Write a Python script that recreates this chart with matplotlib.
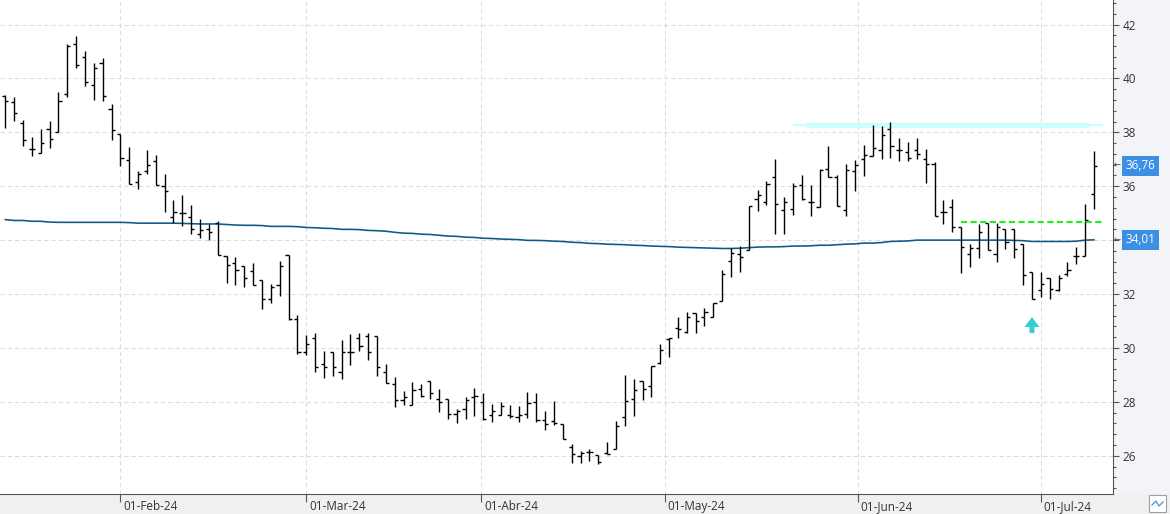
# OHLC bar chart with long moving average, support/resistance marks
import numpy as np
import pandas as pd
import matplotlib
matplotlib.use("Agg")
import matplotlib.pyplot as plt
import matplotlib.transforms as mtransforms
from matplotlib.patches import Rectangle, FancyArrow
from matplotlib.ticker import MultipleLocator

# --- data ---
first_day = "2024-01-15"
last_day = "2024-07-09"
holidays = ["2024-03-29", "2024-04-01", "2024-05-01"]

opens = [39.34, 39.13, 38.33, 37.37, 37.22, 38.11, 38.00, 39.41, 41.27, 40.80,
         39.76, 40.58, 38.85, 37.94, 36.99, 36.15, 36.58, 36.92, 36.00, 34.87,
         35.02, 34.87, 34.22, 34.40, 34.65, 33.40, 33.14, 33.03, 32.84, 32.52,
         31.80, 32.32, 33.43, 31.06, 29.84, 30.35, 29.42, 29.84, 29.10, 29.84,
         30.35, 30.44, 30.44, 29.09, 28.67, 28.07, 27.87, 28.49, 28.77, 28.12,
         28.10, 27.55, 27.73, 28.19, 27.99, 27.52, 27.51, 27.51, 27.45, 27.56,
         28.00, 27.32, 27.30, 27.17, 26.33, 26.00, 26.15, 26.04, 26.10, 26.25,
         27.45, 28.11, 28.76, 28.59, 29.45, 30.34, 30.74, 30.60, 31.29, 31.16,
         31.15, 31.75, 33.21, 33.47, 33.63, 35.53, 35.42, 36.35, 35.12, 35.15,
         36.06, 35.41, 35.22, 36.63, 36.36, 35.10, 36.57, 37.02, 37.11, 37.35,
         38.11, 37.33, 37.27, 37.33, 37.01, 36.83, 35.03, 35.24, 34.47, 33.50,
         33.70, 34.62, 33.50, 34.41, 34.41, 33.84, 32.81, 32.14, 32.58, 32.14,
         32.76, 33.40, 33.40, 35.70]
highs = [39.39, 39.30, 38.46, 37.82, 38.12, 38.42, 39.50, 41.27, 41.58, 41.02,
         40.56, 40.75, 39.04, 37.94, 37.45, 36.56, 37.34, 37.15, 36.45, 35.48,
         35.68, 35.30, 34.79, 34.60, 34.71, 33.40, 33.36, 33.03, 33.15, 32.52,
         32.39, 33.21, 33.43, 31.24, 30.47, 30.57, 29.88, 29.84, 30.29, 30.52,
         30.54, 30.55, 30.44, 29.39, 28.93, 28.40, 28.75, 28.67, 28.77, 28.49,
         28.10, 27.72, 28.19, 28.53, 28.31, 27.93, 28.00, 27.89, 27.84, 28.38,
         28.34, 27.67, 28.02, 27.17, 26.43, 26.19, 26.25, 26.04, 26.52, 27.30,
         28.98, 28.83, 28.76, 29.32, 30.13, 30.38, 31.14, 31.32, 31.29, 31.50,
         31.66, 32.88, 33.69, 33.79, 35.25, 35.87, 36.19, 37.01, 35.59, 36.12,
         36.41, 36.04, 36.63, 37.49, 36.42, 36.81, 36.96, 37.52, 38.27, 38.25,
         38.37, 37.78, 37.63, 37.78, 37.38, 36.91, 35.49, 35.51, 34.47, 33.84,
         34.58, 34.62, 34.62, 34.41, 34.41, 33.84, 32.81, 32.80, 32.58, 32.72,
         33.20, 33.75, 35.33, 37.31]
lows = [38.17, 38.43, 37.50, 37.14, 37.22, 37.43, 38.00, 39.32, 40.40, 39.73,
        39.20, 39.16, 37.73, 36.76, 36.10, 35.88, 36.47, 36.03, 35.05, 34.64,
        34.53, 34.21, 34.09, 34.02, 33.43, 32.42, 32.34, 32.27, 32.32, 31.45,
        31.66, 31.91, 31.03, 29.79, 29.73, 29.11, 28.89, 28.96, 28.85, 29.37,
        29.89, 29.56, 28.95, 28.69, 27.79, 27.87, 27.87, 28.18, 28.09, 27.61,
        27.35, 27.20, 27.35, 27.46, 27.32, 27.27, 27.51, 27.39, 27.24, 27.40,
        27.25, 26.95, 27.15, 26.62, 25.72, 25.72, 25.82, 25.69, 26.06, 26.25,
        27.09, 27.47, 28.05, 28.17, 29.41, 29.66, 30.37, 30.57, 30.57, 30.82,
        31.15, 31.75, 32.64, 32.83, 33.63, 35.07, 35.32, 34.21, 34.21, 34.95,
        35.48, 34.91, 35.22, 36.33, 35.25, 34.88, 35.84, 36.37, 37.11, 37.02,
        37.04, 36.95, 36.95, 37.01, 36.11, 34.88, 34.61, 34.31, 32.79, 33.01,
        33.34, 33.65, 33.20, 33.68, 33.34, 32.35, 31.82, 31.89, 31.82, 32.11,
        32.67, 33.12, 33.40, 35.16]
closes = [39.16, 38.70, 37.70, 37.37, 37.59, 37.77, 39.16, 41.22, 40.49, 39.86,
          40.38, 39.36, 38.08, 37.06, 36.10, 36.45, 36.77, 36.03, 35.84, 35.06,
          35.02, 34.43, 34.38, 34.30, 33.46, 33.06, 32.88, 32.59, 32.34, 31.80,
          32.26, 33.04, 31.07, 29.85, 30.14, 29.30, 29.30, 29.28, 29.84, 29.84,
          30.09, 29.84, 29.28, 28.70, 28.07, 28.18, 28.44, 28.20, 28.34, 27.98,
          27.55, 27.67, 28.08, 28.22, 27.37, 27.67, 27.84, 27.46, 27.51, 27.96,
          27.32, 27.17, 27.20, 26.62, 26.06, 26.10, 26.15, 25.75, 26.08, 27.12,
          28.02, 28.43, 28.46, 29.32, 29.93, 30.38, 30.70, 31.15, 31.01, 31.34,
          31.66, 32.73, 33.51, 33.37, 35.25, 35.68, 36.09, 35.33, 35.42, 36.00,
          35.52, 35.41, 36.60, 36.33, 35.25, 36.59, 36.78, 37.17, 37.41, 37.90,
          37.49, 37.33, 37.04, 37.21, 36.84, 34.88, 35.03, 34.50, 33.74, 33.70,
          34.29, 33.65, 34.50, 33.94, 33.68, 32.70, 31.82, 32.39, 32.20, 32.58,
          32.91, 33.40, 34.74, 36.76]
moving_avg = [34.76, 34.73, 34.73, 34.70, 34.70, 34.67, 34.66, 34.66, 34.66, 34.66,
              34.66, 34.66, 34.66, 34.66, 34.65, 34.63, 34.63, 34.63, 34.63, 34.63,
              34.62, 34.61, 34.60, 34.60, 34.60, 34.58, 34.56, 34.55, 34.55, 34.54,
              34.51, 34.51, 34.51, 34.50, 34.47, 34.46, 34.44, 34.43, 34.40, 34.40,
              34.39, 34.36, 34.35, 34.33, 34.29, 34.26, 34.25, 34.22, 34.21, 34.18,
              34.15, 34.14, 34.11, 34.10, 34.07, 34.06, 34.04, 34.03, 34.02, 33.99,
              33.99, 33.98, 33.96, 33.95, 33.92, 33.91, 33.88, 33.87, 33.85, 33.84,
              33.83, 33.81, 33.80, 33.78, 33.77, 33.76, 33.74, 33.73, 33.72, 33.71,
              33.70, 33.69, 33.69, 33.70, 33.72, 33.74, 33.75, 33.75, 33.76, 33.78,
              33.78, 33.79, 33.81, 33.81, 33.83, 33.85, 33.86, 33.89, 33.89, 33.91,
              33.95, 33.96, 33.97, 34.00, 34.00, 34.00, 34.00, 34.00, 34.00, 34.00,
              34.00, 34.00, 34.00, 34.00, 33.99, 33.98, 33.95, 33.95, 33.95, 33.95,
              33.95, 33.96, 34.00, 34.01]

month_starts = ["2024-02-01", "2024-03-01", "2024-04-01", "2024-05-01", "2024-06-01", "2024-07-01"]
month_labels = ["01-Feb-24", "01-Mar-24", "01-Abr-24", "01-May-24", "01-Jun-24", "01-Jul-24"]
y_ticks = [26, 28, 30, 32, 34, 36, 38, 40, 42]

resistance_level = 38.27
resistance_from, resistance_to = 89, 124
support_level = 34.68
support_from, support_to = 108, 124
signal_bar = 116
signal_low, signal_high = 30.55, 31.14

# --- trading calendar -> bar index ---
days = pd.bdate_range(first_day, last_day)
days = days[~days.isin(pd.to_datetime(holidays))]
x = np.arange(len(days))

def date_pos(d):
    t = pd.Timestamp(d)
    i = days.searchsorted(t)
    if i < len(days) and days[i] == t:
        return float(i)
    prev, nxt = days[i - 1], days[i]
    return i - 1 + (t - prev) / (nxt - prev)

month_pos = [date_pos(d) for d in month_starts]

plt.rcParams['font.family'] = ['Open Sans', 'DejaVu Sans']

W, H = 1170, 514
fig = plt.figure(figsize=(W / 100, H / 100), dpi=100, facecolor='#f0f0f0')
ax_right = 1112.5
ax = fig.add_axes([0, 20 / H, ax_right / W, 494 / H])
ax.set_facecolor('white')
fig.patches.append(Rectangle((ax_right / W, 20 / H), 1 - ax_right / W, 494 / H,
                             transform=fig.transFigure, facecolor='#f3f4f7',
                             edgecolor='none', zorder=-1))

ax.set_xlim(-0.6, 125.1)
ax.set_ylim(24.58, 42.91)

# grid
ax.set_axisbelow(True)
ax.grid(True, which='major', color='#dcdcdc', linestyle=(0, (4, 3)), linewidth=0.75)

# moving average
ax.plot(x, moving_avg, color='#0d5887', lw=1.15, zorder=2)

# resistance band (light cyan)
ax.plot([resistance_from, resistance_from + 1.5], [resistance_level] * 2, color='#ccfdff',
        lw=1.6, solid_capstyle='butt', zorder=1.5)
ax.plot([resistance_from + 1.5, resistance_to - 1.5], [resistance_level] * 2, color='#ccfdff',
        lw=3.9, solid_capstyle='butt', zorder=1.5)
ax.plot([resistance_to - 1.5, resistance_to], [resistance_level] * 2, color='#ccfdff',
        lw=1.6, solid_capstyle='butt', zorder=1.5)

# OHLC bars
tick = 0.36
ax.vlines(x, lows, highs, color='black', lw=1.0, zorder=3)
ax.hlines(opens, x - tick, x, color='black', lw=1.0, zorder=3)
ax.hlines(closes, x, x + tick, color='black', lw=1.0, zorder=3)

# support dashed line
ax.plot([support_from, support_to], [support_level] * 2, color='#22ee22', lw=1.5,
        linestyle=(0, (3, 1.6)), zorder=4)

# signal arrow
ax.add_patch(FancyArrow(signal_bar, signal_low, 0, signal_high - signal_low, width=0.56,
                        head_width=1.7, head_length=0.36, length_includes_head=True,
                        color='#35cdd0', lw=0, zorder=4))

# spines
for s in ['top', 'left']:
    ax.spines[s].set_visible(False)
for s in ['right', 'bottom']:
    ax.spines[s].set_color('#555555')
    ax.spines[s].set_linewidth(0.8)

# y axis on the right; tick labels hidden behind a value box are left blank
boxed_values = [closes[-1], moving_avg[-1]]
ax.yaxis.tick_right()
ax.set_yticks(y_ticks)
ax.set_yticklabels(['' if any(abs(v - b) < 0.4 for b in boxed_values) else str(v)
                    for v in y_ticks])
ax.yaxis.set_minor_locator(MultipleLocator(0.4))
ax.tick_params(axis='y', which='major', length=4.2, width=0.8, color='#555555',
               labelsize=8.5, labelcolor='#333333', pad=3)
ax.tick_params(axis='y', which='minor', length=2.4, width=0.8, color='#555555')

# x axis month labels
ax.set_xticks(month_pos)
ax.set_xticklabels(month_labels)
ax.tick_params(axis='x', which='major', direction='out', length=6, width=0.8,
               color='#555555', labelsize=8.5, labelcolor='#333333', pad=-1.5)
shift = mtransforms.ScaledTranslation(2 / 72, 0, fig.dpi_scale_trans)
for lbl in ax.get_xticklabels():
    lbl.set_horizontalalignment('left')
    lbl.set_transform(lbl.get_transform() + shift)

# last-value boxes on the axis
blend = mtransforms.blended_transform_factory(ax.transAxes, ax.transData)
for val in boxed_values:
    ax.text(1.0118, val, f"{val:.2f}".replace('.', ','), transform=blend, ha='left',
            va='center', color='white', fontsize=8.5, clip_on=False, zorder=6,
            bbox=dict(boxstyle='square,pad=0.28', fc='#3d8fe4', ec='none'))
    ax.text(1.0012, val, '\u2190', transform=blend, ha='left', va='center',
            color='#444444', fontsize=6, clip_on=False, zorder=6)

# small chart-type button at bottom right
fig.patches.append(Rectangle((1149 / W, 2 / H), 17 / W, 17 / H, transform=fig.transFigure,
                             facecolor='white', edgecolor='#a0a0a0', lw=0.8, zorder=2))
fig.lines.append(plt.Line2D([1152 / W, 1156 / W, 1159 / W, 1163 / W],
                            [9 / H, 13 / H, 8 / H, 12 / H], transform=fig.transFigure,
                            color='#5b9bd5', lw=1.0, zorder=3))

fig.savefig('out.png', dpi=100, facecolor=fig.get_facecolor())
